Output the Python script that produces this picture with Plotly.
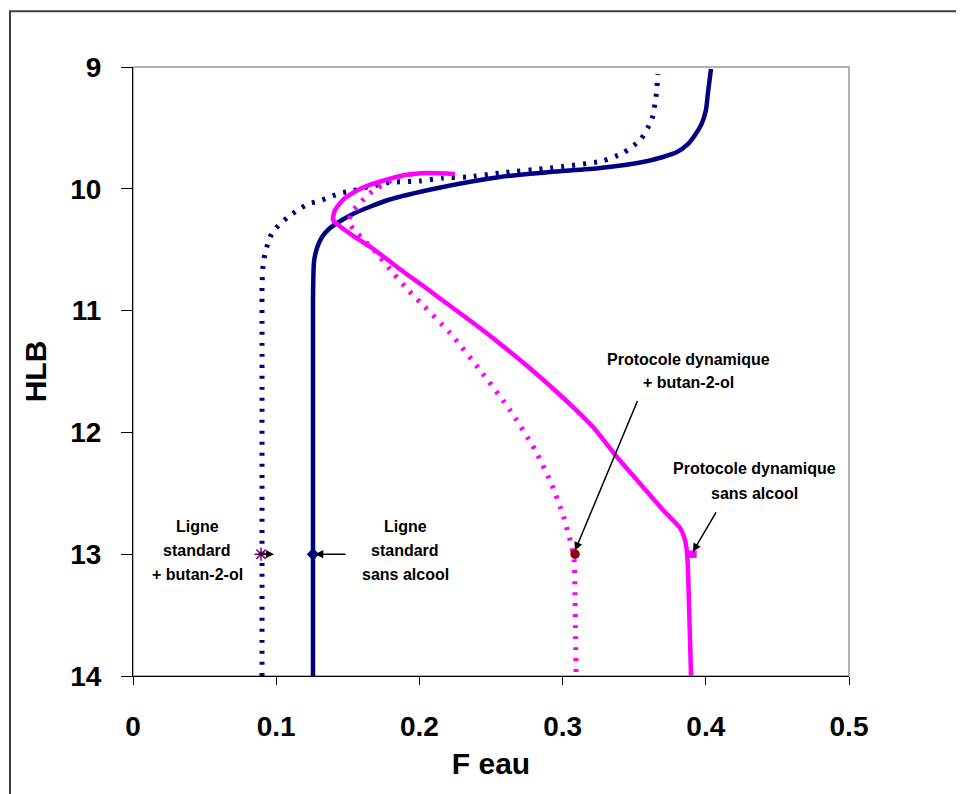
import plotly.graph_objects as go

# ---- data ----
std_sans_x = [0.1257, 0.1257, 0.1264, 0.1285, 0.1320, 0.1376, 0.1460, 0.1550, 0.1781,
              0.2130, 0.2563, 0.2912, 0.3261, 0.3561, 0.3701, 0.3799, 0.3869,
              0.3925, 0.3973, 0.4001, 0.4015, 0.4036]
std_sans_y = [14.0, 10.913, 10.60, 10.486, 10.396, 10.322, 10.256, 10.199, 10.092,
              9.993, 9.903, 9.862, 9.829, 9.780, 9.739, 9.698, 9.640,
              9.558, 9.460, 9.353, 9.213, 9.016]

std_but_x = [0.0901, 0.0901, 0.0901, 0.0908, 0.0922, 0.0943, 0.0971, 0.1027, 0.1082, 0.1152,
             0.1222, 0.1299, 0.1376, 0.1453, 0.1529, 0.1606, 0.1683, 0.1767, 0.1844, 0.2004,
             0.2165, 0.2332, 0.2563, 0.2912, 0.3275, 0.3422, 0.3547, 0.3624, 0.3652, 0.3666]
std_but_y = [14.0, 11.08, 10.81, 10.63, 10.53, 10.445, 10.363, 10.289, 10.232, 10.174,
             10.125, 10.10, 10.067, 10.034, 10.018, 9.993, 9.977, 9.952, 9.944, 9.936,
             9.911, 9.903, 9.870, 9.829, 9.772, 9.706, 9.591, 9.427, 9.246, 9.057]

dyn_sans_x = [0.2249, 0.2060, 0.1900, 0.1739, 0.1599, 0.1480, 0.1411, 0.1397, 0.1460, 0.1550,
              0.1669, 0.1781, 0.1900, 0.2018, 0.2130, 0.2423, 0.2703, 0.2982, 0.3212, 0.3380,
              0.3561, 0.3701, 0.3820, 0.3855, 0.3869, 0.3876, 0.3897]
dyn_sans_y = [9.878, 9.870, 9.887, 9.936, 9.993, 10.076, 10.174, 10.256, 10.322, 10.396,
              10.486, 10.585, 10.691, 10.790, 10.888, 11.143, 11.406, 11.693, 11.956, 12.202,
              12.448, 12.637, 12.785, 12.883, 12.990, 13.130, 14.0]

dyn_but_x = [0.1948, 0.1851, 0.1774, 0.1704, 0.1641, 0.1585, 0.1529, 0.1508, 0.1550, 0.1606,
             0.1718, 0.1816, 0.1927, 0.1983, 0.2214, 0.2423, 0.2632, 0.2808, 0.2926, 0.3003,
             0.3052, 0.3080, 0.3087, 0.3094]
dyn_but_y = [9.878, 9.903, 9.952, 9.993, 10.051, 10.117, 10.190, 10.273, 10.346, 10.412,
             10.552, 10.691, 10.839, 10.905, 11.184, 11.488, 11.816, 12.145, 12.432, 12.678,
             12.883, 13.048, 13.376, 14.0]

# reference points at HLB = 13
mark_x = [0.0894, 0.1257, 0.3087, 0.3910]
mark_y = [13, 13, 13, 13]
mark_symbols = ["asterisk-open", "diamond", "circle", "square"]
mark_colors = ["#800080", "#000080", "#8B0000", "#FF00FF"]
mark_sizes = [11, 8, 8, 6]

x_ticks = [0, 0.1, 0.2, 0.3, 0.4, 0.5]
y_ticks = [9, 10, 11, 12, 13, 14]

# labels: (text lines, x, y list)
labels = [
    (["Ligne", "standard", "+ butan-2-ol"], 0.0447, [12.77, 12.97, 13.17]),
    (["Ligne", "standard", "sans alcool"], 0.1900, [12.77, 12.97, 13.17]),
    (["Protocole dynamique", "+ butan-2-ol"], 0.3876, [11.40, 11.59]),
    (["Protocole dynamique", "sans alcool"], 0.4337, [12.30, 12.50]),
]
# arrows: head (x, y) and tail offset in pixels
arrows = [
    (0.0985, 13, -17, 0),
    (0.1271, 13, 32, 0),
    (0.3087, 12.97, 63, -151),
    (0.3910, 12.98, 24, -41),
]

FONT = "Liberation Sans, Arial, Helvetica, sans-serif"
NAVY = "#000080"
MAG = "#FF00FF"

fig = go.Figure()
fig.add_trace(go.Scatter(x=std_but_x, y=std_but_y, mode="lines",
                         line=dict(color=NAVY, width=5, dash="3px,8px", shape="spline", smoothing=0.6)))
fig.add_trace(go.Scatter(x=std_sans_x, y=std_sans_y, mode="lines",
                         line=dict(color=NAVY, width=4.5, shape="spline", smoothing=0.6)))
fig.add_trace(go.Scatter(x=dyn_but_x, y=dyn_but_y, mode="lines",
                         line=dict(color=MAG, width=5, dash="3px,8px", shape="spline", smoothing=0.6)))
fig.add_trace(go.Scatter(x=dyn_sans_x, y=dyn_sans_y, mode="lines",
                         line=dict(color=MAG, width=4.5, shape="spline", smoothing=0.6)))
for mx, my, ms, mc, mz in zip(mark_x, mark_y, mark_symbols, mark_colors, mark_sizes):
    fig.add_trace(go.Scatter(x=[mx], y=[my], mode="markers",
                             marker=dict(symbol=ms, color=mc, size=mz,
                                         line=dict(color=mc, width=1.5))))

annotations = []
for lines, lx, lys in labels:
    for t, ly in zip(lines, lys):
        annotations.append(dict(x=lx, y=ly, xref="x", yref="y", text=t, showarrow=False,
                                xanchor="center", yanchor="middle",
                                font=dict(family=FONT, size=16, color="black", weight="bold")))
for hx, hy, ax, ay in arrows:
    annotations.append(dict(x=hx, y=hy, xref="x", yref="y", text="", showarrow=True,
                            ax=ax, ay=ay, arrowhead=2, arrowsize=1.1, arrowwidth=1.5,
                            arrowcolor="black", standoff=0))

shapes = [
    # plot-area frame (grey)
    dict(type="rect", xref="paper", yref="paper", x0=0, y0=0, x1=1, y1=1,
         line=dict(color="#999999", width=1.5), layer="below"),
    # outer chart frame
    dict(type="rect", xref="paper", yref="paper", x0=-0.1718, y0=-0.35, x1=1.3, y1=1.0915,
         line=dict(color="#404040", width=2), layer="below"),
]

fig.update_layout(
    width=956, height=786,
    margin=dict(l=125, r=115, t=59, b=118),
    paper_bgcolor="white", plot_bgcolor="white",
    showlegend=False,
    font=dict(family=FONT, color="black"),
    annotations=annotations, shapes=shapes,
)
fig.update_xaxes(range=[0, 0.5], tickvals=x_ticks, ticktext=[str(v) for v in x_ticks],
                 showgrid=False, zeroline=False, showline=True, linecolor="black", linewidth=1,
                 ticks="outside", ticklen=8, tickcolor="black", tickwidth=1,
                 tickfont=dict(family=FONT, size=28, color="black", weight="bold"),
                 ticklabelstandoff=17,
                 title=dict(text="F eau", font=dict(family=FONT, size=30, color="black", weight="bold"),
                            standoff=12))
fig.update_yaxes(range=[14, 9], tickvals=y_ticks, ticktext=[str(v) for v in y_ticks],
                 showgrid=False, zeroline=False, showline=True, linecolor="black", linewidth=1,
                 ticks="outside", ticklen=11, tickcolor="black", tickwidth=1,
                 tickfont=dict(family=FONT, size=28, color="black", weight="bold"),
                 ticklabelstandoff=14,
                 title=dict(text="HLB", font=dict(family=FONT, size=30, color="black", weight="bold"),
                            standoff=14))

fig.write_html("out.html")
